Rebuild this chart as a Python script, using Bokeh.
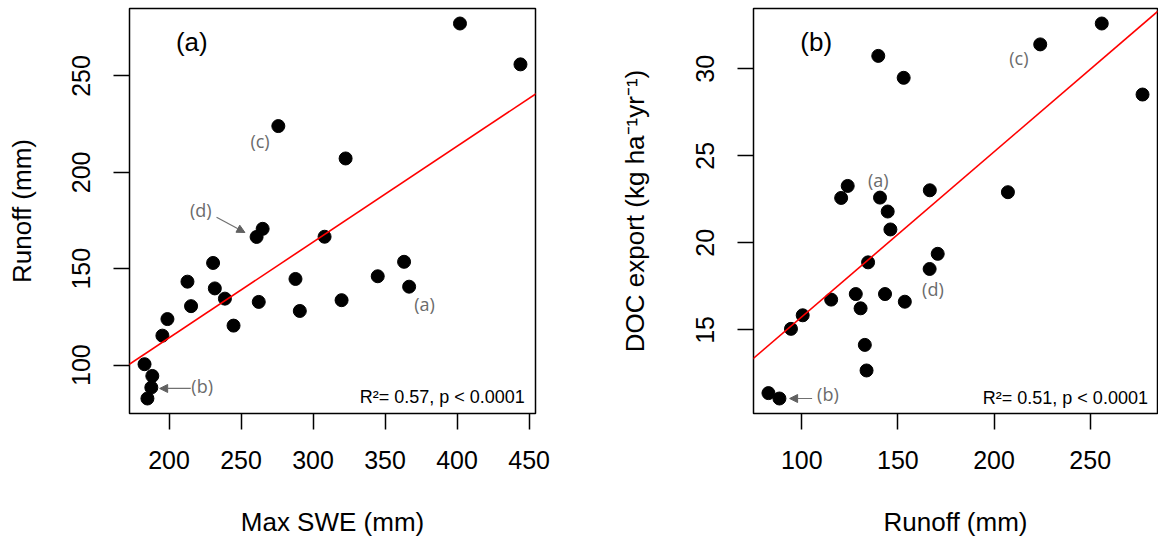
import numpy as np
from bokeh.plotting import figure
from bokeh.layouts import row
from bokeh.models import Range1d, FixedTicker, Slope, Label, Arrow, NormalHead
from bokeh.embed import file_html
from bokeh.resources import INLINE

# Per-site values: peak snow water equivalent, annual runoff, DOC export
max_swe = [402, 444, 275.9, 322.6, 265, 260.8, 308, 363.2, 230.6, 344.9, 287.8,
           212.8, 366.7, 231.8, 238.8, 319.8, 262.3, 215.3, 290.8, 198.9, 244.8,
           195.4, 183.0, 188.4, 187.7, 185.0]
runoff = [277.2, 256.0, 224.0, 207.2, 170.7, 166.5, 166.6, 153.6, 153.0, 146.1, 144.7,
          143.3, 140.7, 139.8, 134.5, 133.7, 132.8, 130.6, 128.1, 123.9, 120.5,
          115.3, 100.5, 94.4, 88.4, 82.7]
doc_export = [28.52, 32.6, 31.4, 22.91, 19.37, 18.5, 23.02, 16.62, 29.48, 20.77, 21.8,
              17.06, 22.6, 30.74, 18.88, 12.67, 14.14, 16.24, 17.06, 23.27, 22.58,
              16.74, 15.84, 15.06, 11.06, 11.37]

swe_ticks = [200, 250, 300, 350, 400, 450]
runoff_ticks = [100, 150, 200, 250]
doc_ticks = [15, 20, 25, 30]

fit_text_a = "R\u00b2= 0.57, p < 0.0001"
fit_text_b = "R\u00b2= 0.51, p < 0.0001"

AXIS_FONT = "Liberation Sans"
NOTE_FONT = "Open Sans"
NOTE_GREY = "#6b6b6b"


def padded_range(v):
    lo, hi = min(v), max(v)
    pad = 0.04 * (hi - lo)
    return Range1d(lo - pad, hi + pad)


def make_panel(x, y, xticks, yticks, xlabel, ylabel, left, right, frame_w, ylab_standoff):
    p = figure(output_backend="svg", toolbar_location=None,
               frame_width=frame_w, frame_height=405,
               min_border_left=left, min_border_right=right,
               min_border_top=8, min_border_bottom=128,
               x_range=padded_range(x), y_range=padded_range(y),
               background_fill_color="white", border_fill_color="white")
    p.xgrid.visible = False
    p.ygrid.visible = False
    p.outline_line_color = "black"
    p.outline_line_width = 1.5
    p.xaxis.ticker = FixedTicker(ticks=xticks)
    p.yaxis.ticker = FixedTicker(ticks=yticks)
    p.yaxis.major_label_orientation = "vertical"
    for ax in (p.xaxis, p.yaxis):
        ax.axis_line_color = None
        ax.major_tick_out = 16
        ax.major_tick_in = 0
        ax.major_tick_line_width = 1.5
        ax.major_tick_line_color = "black"
        ax.minor_tick_line_color = None
        ax.major_label_text_font = AXIS_FONT
        ax.major_label_text_font_size = "25px"
        ax.major_label_text_color = "black"
        ax.axis_label_text_font = AXIS_FONT
        ax.axis_label_text_font_size = "26px"
        ax.axis_label_text_font_style = "normal"
        ax.axis_label_text_color = "black"
    p.xaxis.major_label_standoff = 21
    p.yaxis.major_label_standoff = 23
    p.xaxis.axis_label = xlabel
    p.yaxis.axis_label = ylabel
    p.xaxis.axis_label_standoff = 35
    p.yaxis.axis_label_standoff = ylab_standoff

    slope, intercept = np.polyfit(x, y, 1)
    p.add_layout(Slope(gradient=slope, y_intercept=intercept,
                       line_color="#ff0000", line_width=1.6))
    p.scatter(x, y, size=13, color="black")
    return p


def note(p, x, y, text, size="18px", color=NOTE_GREY, font=NOTE_FONT,
         align="center", baseline="middle"):
    p.add_layout(Label(x=x, y=y, text=text, text_font=font, text_font_size=size,
                       text_color=color, text_align=align, text_baseline=baseline))


def pointer(p, x0, y0, x1, y1):
    p.add_layout(Arrow(x_start=x0, y_start=y0, x_end=x1, y_end=y1,
                       line_color="#707070", line_width=1.2,
                       end=NormalHead(size=8, fill_color="#606060",
                                      line_color="#606060")))


# (a) runoff against peak SWE
pa = make_panel(max_swe, runoff, swe_ticks, runoff_ticks,
                "Max SWE (mm)", "Runoff (mm)", 129, 44, 406, 33)
note(pa, 215.8, 267.6, "(a)", size="26px", color="black", font=AXIS_FONT)
note(pa, 263.2, 216.4, "(c)")
note(pa, 222.1, 180.5, "(d)")
pointer(pa, 233.0, 176.7, 252.7, 168.8)
note(pa, 377.4, 131.9, "(a)")
note(pa, 223.0, 89.1, "(b)")
pointer(pa, 215.1, 87.9, 193.5, 87.9)
note(pa, 447.0, 83.6, fit_text_a, color="black", font=AXIS_FONT,
     align="right", baseline="alphabetic")

# (b) DOC export against runoff
pb = make_panel(runoff, doc_export, runoff_ticks, doc_ticks,
                "Runoff (mm)", "DOC export (kg ha\u207b\u00b9yr\u207b\u00b9)",
                174, 1, 404, 44)
note(pb, 107.5, 31.52, "(b)", size="26px", color="black", font=AXIS_FONT)
note(pb, 212.9, 30.64, "(c)")
note(pb, 139.8, 23.6, "(a)")
note(pb, 168.2, 17.35, "(d)")
note(pb, 113.6, 11.33, "(b)")
pointer(pb, 105.4, 11.06, 93.7, 11.06)
note(pb, 280.0, 11.09, fit_text_b, color="black", font=AXIS_FONT,
     align="right", baseline="alphabetic")

layout = row(pa, pb)
open("out.html", "w").write(file_html(layout, INLINE))
